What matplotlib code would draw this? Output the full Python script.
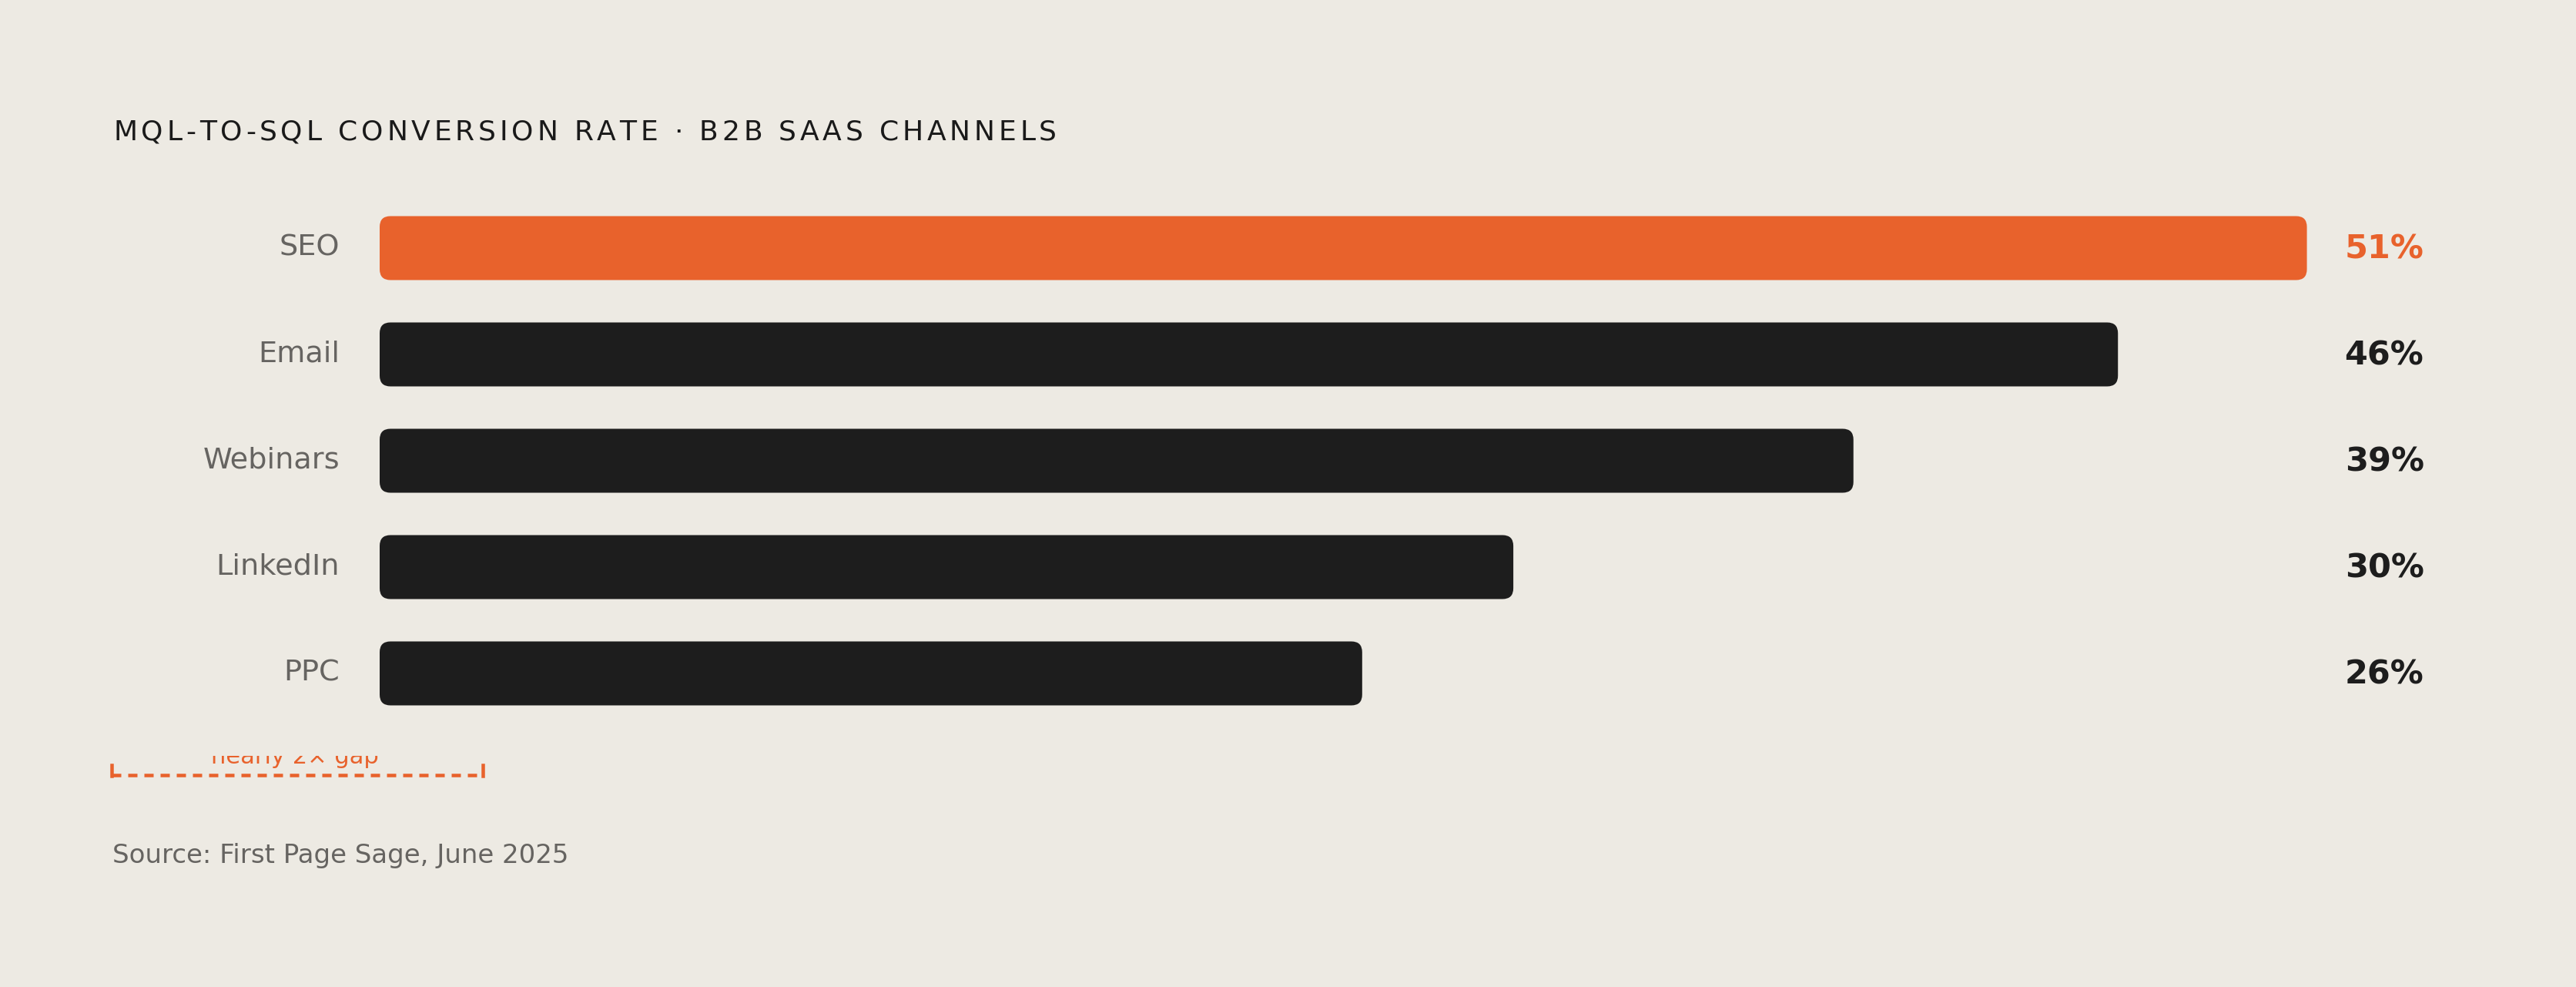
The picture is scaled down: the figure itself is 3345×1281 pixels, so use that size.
import matplotlib
matplotlib.use("Agg")
import matplotlib.pyplot as plt
from matplotlib.patches import FancyBboxPatch
from matplotlib.lines import Line2D
from matplotlib.transforms import Bbox, TransformedBbox
from matplotlib.font_manager import FontProperties, findfont, get_font

# --- data -------------------------------------------------------------------
channels = ["SEO", "Email", "Webinars", "LinkedIn", "PPC"]
rates = [51, 46, 39, 30, 26]
highlight = "SEO"

title = "MQL-TO-SQL CONVERSION RATE · B2B SAAS CHANNELS"
source = "Source: First Page Sage, June 2025"
note = "nearly 2× gap"

# --- style ------------------------------------------------------------------
BG = "#EDEAE3"
ORANGE = "#E8622C"
DARK = "#1D1D1D"
GREY = "#666461"
FONT = "DejaVu Sans"

W, H, DPI = 3345, 1281, 100


def fx(px):
    return px / W


def fy(py):
    return 1 - py / H


def spaced_text(fig, x_px, y_px, s, size, width_px, **kw):
    """Letter-spaced text: place glyphs one by one so the line spans width_px."""
    fp = FontProperties(family=FONT, size=size)
    font = get_font(findfont(fp))
    font.set_size(size, DPI)
    adv = [font.load_char(ord(c)).linearHoriAdvance / 65536 for c in s]
    track = (width_px - sum(adv)) / (len(s) - 1)
    x = x_px
    for c, a in zip(s, adv):
        fig.text(fx(x), fy(y_px), c, fontproperties=fp, va="baseline", ha="left", **kw)
        x += a + track


fig = plt.figure(figsize=(W / DPI, H / DPI), dpi=DPI, facecolor=BG)

# axes: x = percent (0 at 493 px, ~49 px per point), rows 138 px apart
x0_px, px_per = 493, 49.07
row0, row_gap = 322, 138
xmax = 58
ax = fig.add_axes([fx(x0_px), fy(row0 + 4.5 * row_gap),
                   xmax * px_per / W, 5 * row_gap / H])
ax.set_xlim(0, xmax)
ax.set_ylim(4.5, -0.5)
ax.axis("off")

bar_h = 83 / row_gap
radius_px = 14
aspect = px_per / row_gap
for i, (name, v) in enumerate(zip(channels, rates)):
    col = ORANGE if name == highlight else DARK
    ax.add_patch(FancyBboxPatch((0, i - bar_h / 2), v, bar_h,
                                boxstyle=f"round,pad=0,rounding_size={radius_px / px_per}",
                                mutation_aspect=aspect, fc=col, ec="none"))
    ax.annotate(name, (0, i), xytext=(-52, -10), textcoords="offset pixels",
                ha="right", va="baseline", fontsize=27.5, color=GREY, family=FONT)
    ax.annotate(f"{v}%", (max(rates), i), xytext=(49, -14), textcoords="offset pixels",
                ha="left", va="baseline", fontsize=31, fontweight="bold",
                color=ORANGE if name == highlight else DARK, family=FONT)

# title
spaced_text(fig, 147, 182, title, 26, 1225, color="#1A1A1A")

# annotation bracket (top part is cut off in the original)
t = fig.text(fx(383), fy(991), note, ha="center", va="baseline",
             fontsize=22, color=ORANGE, family=FONT)
t.set_clip_box(TransformedBbox(Bbox([[0, 0], [1, fy(981)]]), fig.transFigure))
lw_px = 4.5
lw = lw_px * 72 / DPI
fig.add_artist(Line2D([fx(145), fx(627)], [fy(1005.5), fy(1005.5)],
                      transform=fig.transFigure, color=ORANGE,
                      lw=lw, dashes=(12 / lw_px, 9 / lw_px)))
for xe in (145, 627):
    fig.add_artist(Line2D([fx(xe), fx(xe)], [fy(993), fy(1007)],
                          transform=fig.transFigure, color=ORANGE, lw=lw))

# source
fig.text(fx(146), fy(1120), source, ha="left", va="baseline",
         fontsize=24.5, color=GREY, family=FONT)

fig.savefig("out.png", dpi=DPI, facecolor=BG)
